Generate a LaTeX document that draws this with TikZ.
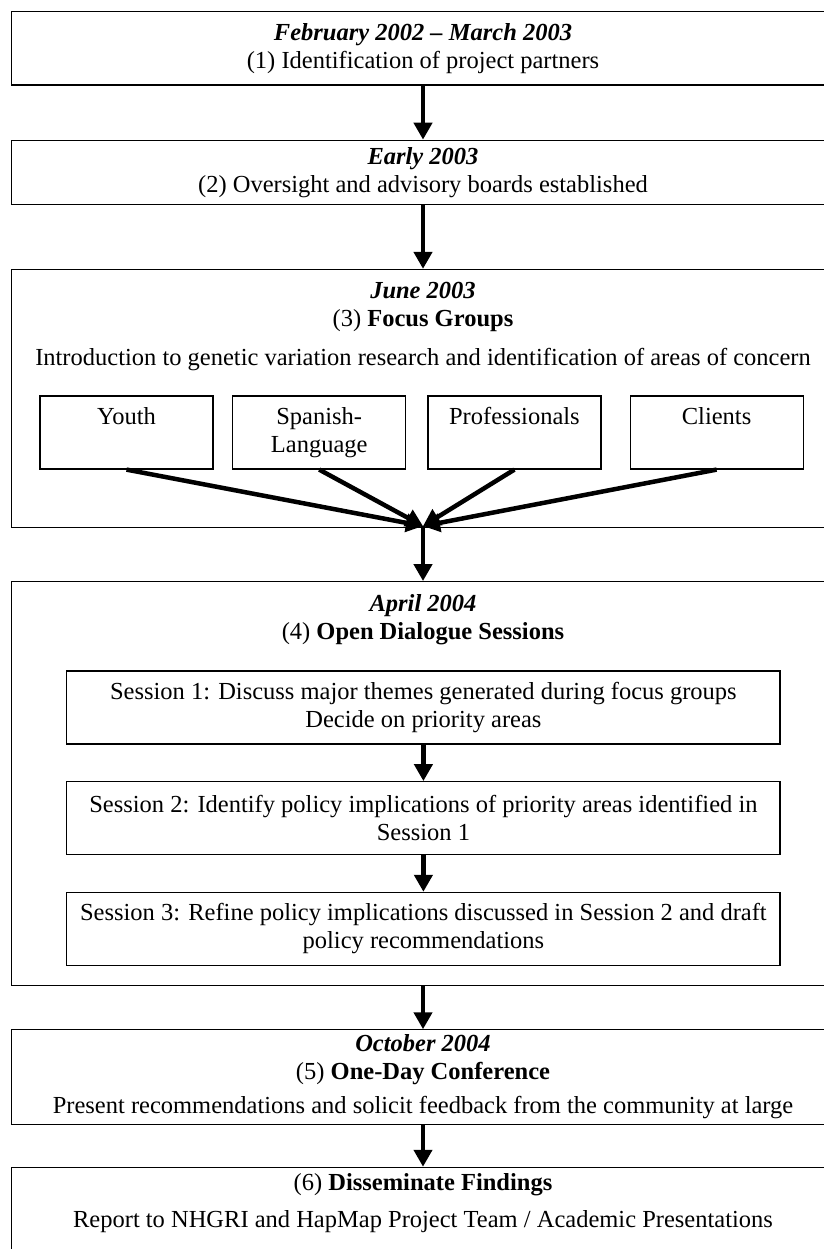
\documentclass[tikz,border=0pt]{standalone}
\usepackage{fontspec}
\setmainfont{Liberation Serif}
\usepackage{tikz}
\usetikzlibrary{arrows.meta,positioning}

\begin{document}
\begin{tikzpicture}[
    x=1pt, y=1pt,
    font=\fontsize{24.5}{28}\selectfont,
    stage/.style={draw, line width=1.2pt, rectangle, minimum width=822.6pt, align=center, inner sep=0pt},
    group/.style={draw, line width=1.2pt, rectangle, minimum width=173pt, minimum height=73pt, align=center, inner sep=0pt},
    session/.style={draw, line width=1.2pt, rectangle, minimum width=713.3pt, minimum height=73pt, align=center, inner sep=0pt},
    title/.style={anchor=north, align=center, inner sep=0pt},
    arrow/.style={-{Triangle[length=17pt,width=18pt]}, line width=4.5pt}
]
\useasboundingbox (0,0) rectangle (823,-1249);

% timeline of the project
\node[stage, minimum height=73.3pt] (b1) at (423,-48.4) {\textbf{\textit{February 2002 – March 2003}}\\(1) Identification of project partners};
\node[stage, minimum height=64pt, below=54pt of b1] (b2) {\textbf{\textit{Early 2003}}\\(2) Oversight and advisory boards established};
\node[stage, minimum height=258pt, below=64pt of b2] (b3) {};
\node[stage, minimum height=404pt, below=53pt of b3] (b4) {};
\node[stage, inner ysep=5pt, below=43pt of b4] (b5) {\textbf{\textit{October 2004}}\\(5) \textbf{One-Day Conference}\\[6pt]Present recommendations and solicit feedback from the community at large};
\node[stage, minimum height=110pt, below=42pt of b5] (b6) {};

% focus groups
\node[title] (t3) at ([yshift=-13pt]b3.north) {\textbf{\textit{June 2003}}\\(3) \textbf{Focus Groups}\\[11pt]Introduction to genetic variation research and identification of areas of concern};
\node[group] (yo) at (126.5,-432.5) {Youth\\\phantom{Language}};
\node[group, right=18.5pt of yo] (sp) {Spanish-\\Language};
\node[group, right=21pt of sp] (pr) {Professionals\\\phantom{Language}};
\node[group, right=28pt of pr] (cl) {Clients\\\phantom{Language}};
\coordinate (meet) at ([yshift=2pt]b3.south);

% open dialogue sessions
\node[title] (t4) at ([yshift=-13pt]b4.north) {\textbf{\textit{April 2004}}\\(4) \textbf{Open Dialogue Sessions}};
\node[session] (s1) at (423.4,-707.5) {Session 1: Discuss major themes generated during focus groups\\Decide on priority areas};
\node[session, below=36.5pt of s1] (s2) {Session 2: Identify policy implications of priority areas identified in\\Session 1};
\node[session, below=36.5pt of s2] (s3) {Session 3: Refine policy implications discussed in Session 2 and draft\\policy recommendations};

% findings
\node[title] (t6) at ([yshift=-7pt]b6.north) {(6) \textbf{Disseminate Findings}\\[9pt]Report to NHGRI and HapMap Project Team / Academic Presentations};

\draw[arrow] (b1) -- (b2);
\draw[arrow] (b2) -- (b3);
\foreach \g in {yo,sp,pr,cl}
    \draw[arrow] (\g.south) -- (meet);
\draw[arrow] (meet) -- (b4);
\draw[arrow] (s1) -- (s2);
\draw[arrow] (s2) -- (s3);
\draw[arrow] (b4) -- (b5);
\draw[arrow] (b5) -- (b6);

\end{tikzpicture}
\end{document}
